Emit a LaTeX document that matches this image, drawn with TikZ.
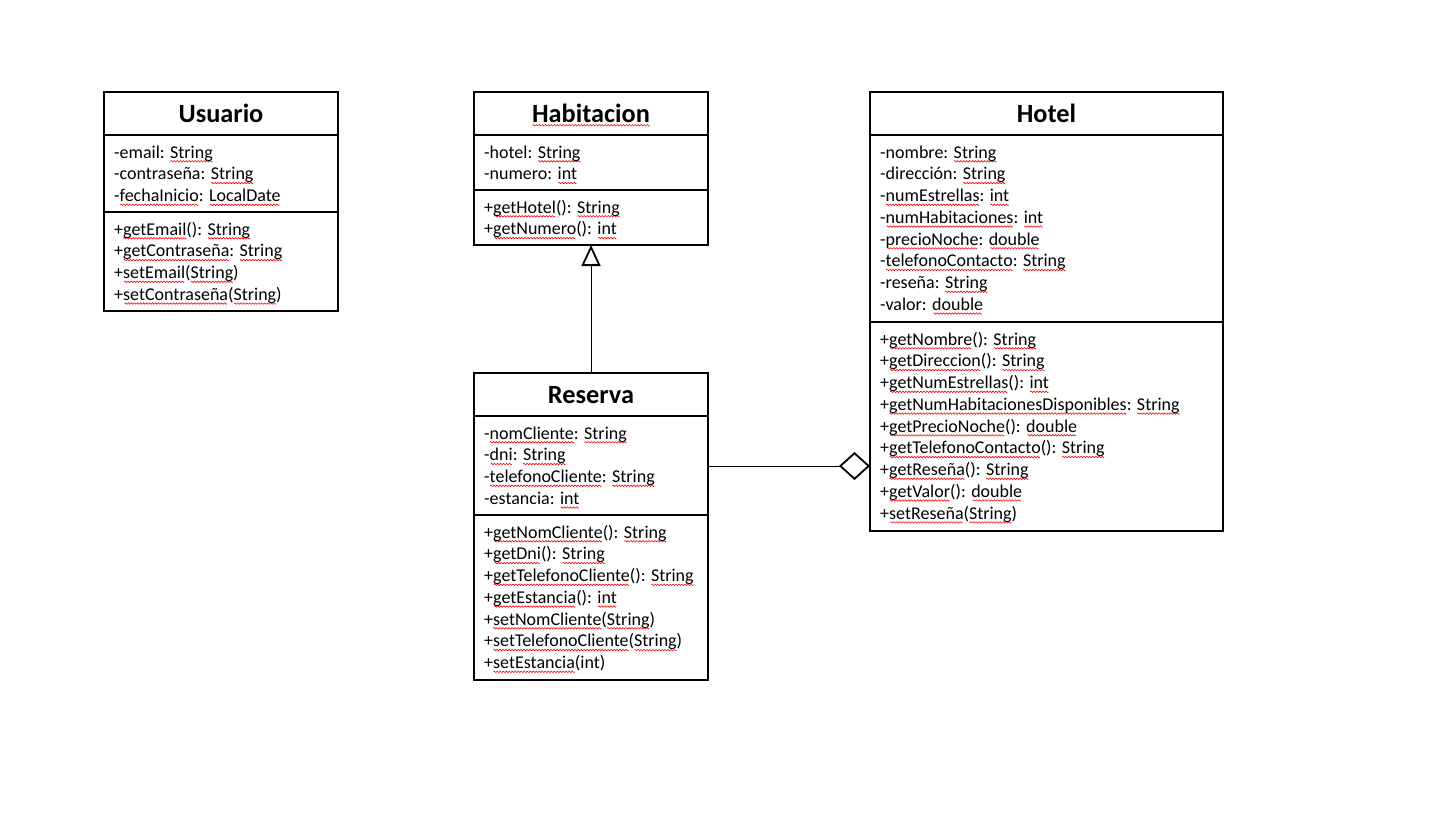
\documentclass[tikz,border=0pt]{standalone}
\usepackage{fontspec}
\setmainfont{Carlito}
\usetikzlibrary{arrows.meta}
\newsavebox\wavebox
\newsavebox\sqbox
\newcommand\sq[1]{\sbox\sqbox{#1}\rlap{\lower3.3pt\hbox to\wd\sqbox{\cleaders\copy\wavebox\hfill}}\usebox\sqbox}
\begin{document}
\sbox\wavebox{\begin{pgfpicture}%
\pgfsetstrokecolor{red}\pgfsetlinewidth{0.6pt}%
\pgfpathmoveto{\pgfpoint{0pt}{0pt}}%
\pgfpathlineto{\pgfpoint{0.75pt}{0.75pt}}%
\pgfpathlineto{\pgfpoint{2.25pt}{-0.75pt}}%
\pgfpathlineto{\pgfpoint{3pt}{0pt}}%
\pgfusepath{stroke}%
\pgfresetboundingbox
\pgfpathrectangle{\pgfpoint{0pt}{0pt}}{\pgfpoint{3pt}{0pt}}%
\pgfusepath{use as bounding box}%
\end{pgfpicture}}%
\begin{tikzpicture}[x=1pt,y=-1pt,
  box/.style={draw, line width=1.1pt, inner sep=0pt, outer sep=0pt, anchor=north west},
  title/.style={font=\fontsize{26.3}{30}\selectfont\bfseries, inner sep=0pt, anchor=base},
  txt/.style={font=\fontsize{18}{21.75}\selectfont, align=left, inner sep=0pt, anchor=base west},
  rule/.style={line width=1.1pt},
  conn/.style={line width=1pt}]
\useasboundingbox (0,0) rectangle (1451,815);

% Usuario
\node[box, minimum width=234pt, minimum height=219pt] (usuario) at (104,92) {};
\draw[rule] (104,135) -- (338,135);
\draw[rule] (104,212) -- (338,212);
\node[title] (usuarioT) at (221,122) {Usuario};
\node[txt] (usuarioA) at (114,201.5) {-email: \sq{String}\\
-contraseña: \sq{String}\\
-\sq{fechaInicio}: \sq{LocalDate}};
\node[txt] (usuarioM) at (114,300.25) {+\sq{getEmail}(): \sq{String}\\
+\sq{getContraseña}: \sq{String}\\
+\sq{setEmail}(\sq{String})\\
+\sq{setContraseña}(\sq{String})};

% Habitacion
\node[box, minimum width=234pt, minimum height=153pt] (habitacion) at (474,92) {};
\draw[rule] (474,135) -- (708,135);
\draw[rule] (474,190) -- (708,190);
\node[title] (habitacionT) at (591,122) {\sq{Habitacion}};
\node[txt] (habitacionA) at (484,179.75) {-hotel: \sq{String}\\
-numero: \sq{int}};
\node[txt] (habitacionM) at (484,234.75) {+\sq{getHotel}(): \sq{String}\\
+\sq{getNumero}(): \sq{int}};

% Hotel
\node[box, minimum width=353pt, minimum height=439pt] (hotel) at (870,92) {};
\draw[rule] (870,135) -- (1223,135);
\draw[rule] (870,322) -- (1223,322);
\node[title] (hotelT) at (1046.5,122) {Hotel};
\node[txt] (hotelA) at (880,310.25) {-nombre: \sq{String}\\
-dirección: \sq{String}\\
-\sq{numEstrellas}: \sq{int}\\
-\sq{numHabitaciones}: \sq{int}\\
-\sq{precioNoche}: \sq{double}\\
-\sq{telefonoContacto}: \sq{String}\\
-reseña: \sq{String}\\
-valor: \sq{double}};
\node[txt] (hotelM) at (880,519) {+\sq{getNombre}(): \sq{String}\\
+\sq{getDireccion}(): \sq{String}\\
+\sq{getNumEstrellas}(): \sq{int}\\
+\sq{getNumHabitacionesDisponibles}: \sq{String}\\
+\sq{getPrecioNoche}(): \sq{double}\\
+\sq{getTelefonoContacto}(): \sq{String}\\
+\sq{getReseña}(): \sq{String}\\
+\sq{getValor}(): \sq{double}\\
+\sq{setReseña}(\sq{String})};

% Reserva
\node[box, minimum width=234pt, minimum height=307pt] (reserva) at (474,373) {};
\draw[rule] (474,416) -- (708,416);
\draw[rule] (474,515) -- (708,515);
\node[title] (reservaT) at (591,403) {Reserva};
\node[txt] (reservaA) at (484,504.25) {-\sq{nomCliente}: \sq{String}\\
-\sq{dni}: \sq{String}\\
-\sq{telefonoCliente}: \sq{String}\\
-estancia: \sq{int}};
\node[txt] (reservaM) at (484,668.5) {+\sq{getNomCliente}(): \sq{String}\\
+\sq{getDni}(): \sq{String}\\
+\sq{getTelefonoCliente}(): \sq{String}\\
+\sq{getEstancia}(): \sq{int}\\
+\sq{setNomCliente}(\sq{String})\\
+\sq{setTelefonoCliente}(\sq{String})\\
+\sq{setEstancia}(int)};

% connectors
\draw[conn, -{Triangle[open,length=21pt,width=19pt,line width=1.8pt]}] (reserva.north) -- (habitacion.south);
\coordinate (aggY) at (0,466);
\draw[conn, -{Diamond[open,length=31pt,width=28pt,line width=1.8pt]}] (reserva.east |- aggY) -- (hotel.west |- aggY);
\end{tikzpicture}
\end{document}
